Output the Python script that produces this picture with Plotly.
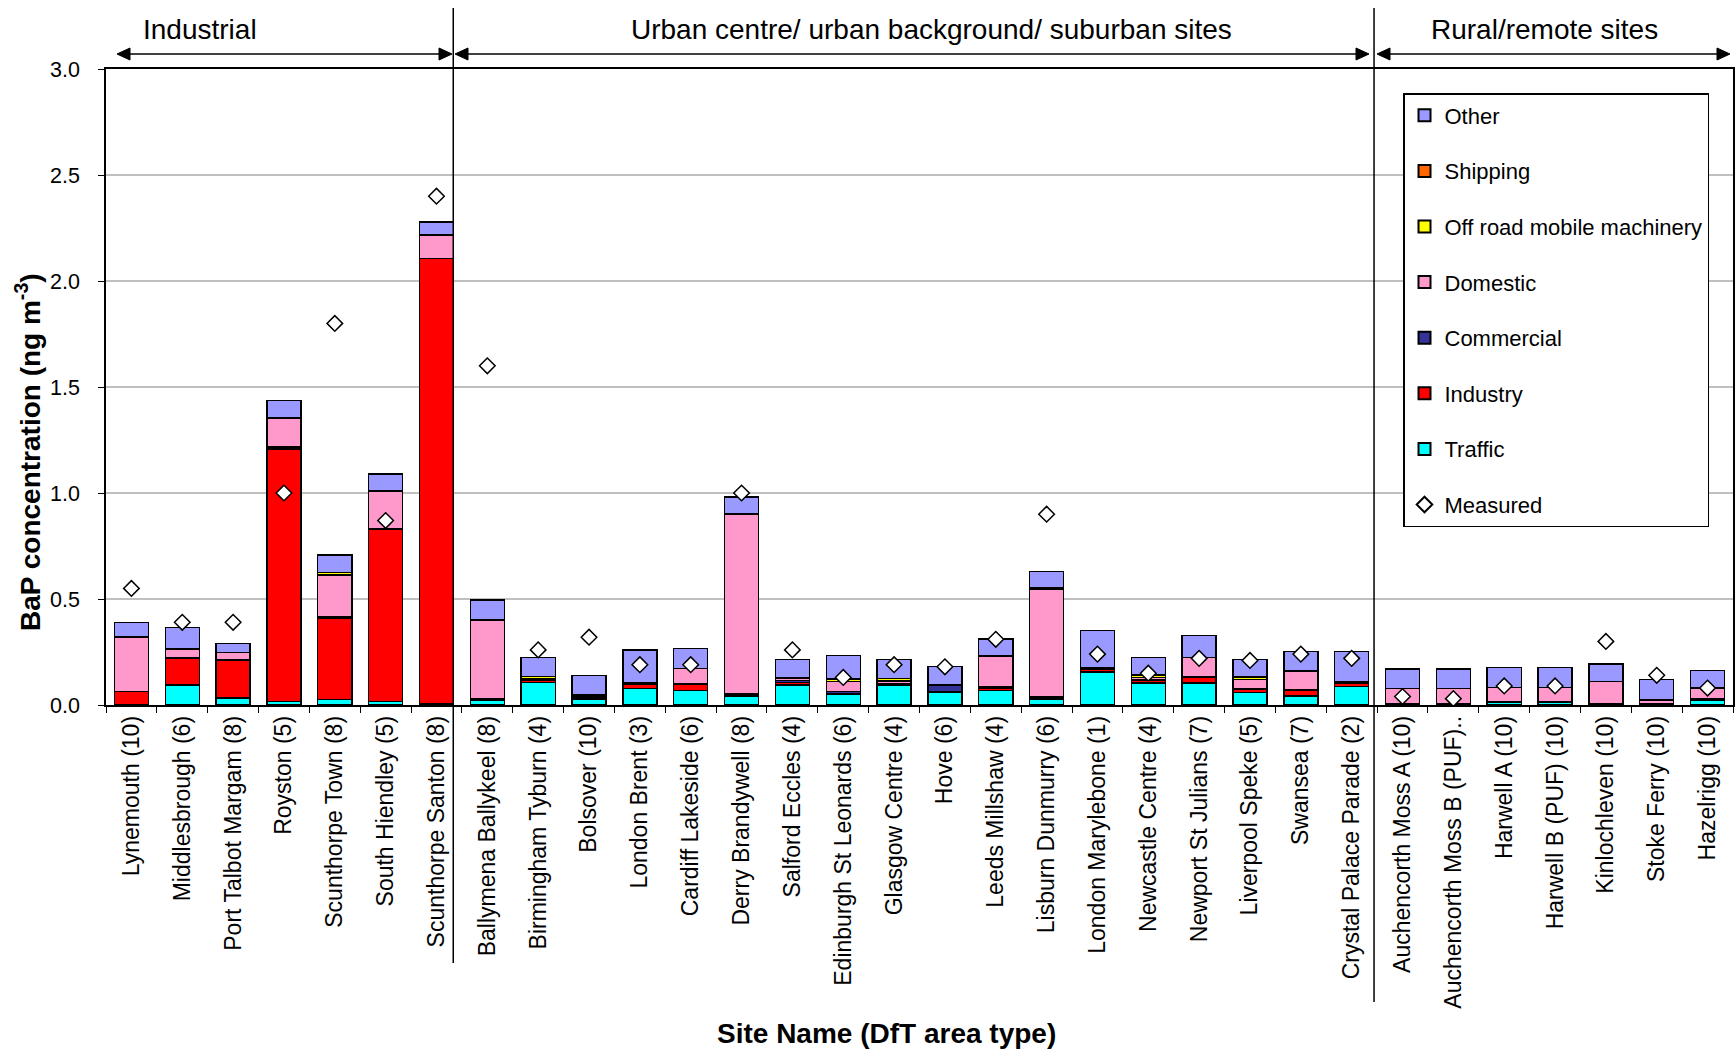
import plotly.graph_objects as go

sites = [
    "Lynemouth (10)", "Middlesbrough (6)", "Port Talbot Margam (8)", "Royston (5)",
    "Scunthorpe Town (8)", "South Hiendley (5)", "Scunthorpe Santon (8)",
    "Ballymena Ballykeel (8)", "Birmingham Tyburn (4)", "Bolsover (10)", "London Brent (3)",
    "Cardiff Lakeside (6)", "Derry Brandywell (8)", "Salford Eccles (4)",
    "Edinburgh St Leonards (6)", "Glasgow Centre (4)", "Hove (6)", "Leeds Millshaw (4)",
    "Lisburn Dunmurry (6)", "London Marylebone (1)", "Newcastle Centre (4)",
    "Newport St Julians (7)", "Liverpool Speke (5)", "Swansea (7)", "Crystal Palace Parade (2)",
    "Auchencorth Moss A (10)", "Auchencorth Moss B (PUF)..", "Harwell A (10)",
    "Harwell B (PUF) (10)", "Kinlochleven (10)", "Stoke Ferry (10)", "Hazelrigg (10)",
]

traffic = [0.003, 0.095, 0.033, 0.017, 0.026, 0.017, 0.005,
           0.020, 0.105, 0.025, 0.078, 0.068, 0.040, 0.095, 0.052, 0.095, 0.060, 0.068,
           0.027, 0.155, 0.103, 0.103, 0.060, 0.043, 0.087,
           0.003, 0.003, 0.015, 0.015, 0.003, 0.003, 0.023]
industry = [0.060, 0.125, 0.180, 1.190, 0.385, 0.810, 2.100,
            0.003, 0.012, 0.006, 0.018, 0.028, 0.003, 0.012, 0.002, 0.004, 0.002, 0.012,
            0.003, 0.012, 0.012, 0.027, 0.016, 0.025, 0.015,
            0.001, 0.001, 0.001, 0.001, 0.001, 0.001, 0.005]
commercial = [0.002, 0.005, 0.003, 0.010, 0.005, 0.003, 0.002,
              0.008, 0.002, 0.006, 0.005, 0.005, 0.008, 0.008, 0.010, 0.003, 0.030, 0.004,
              0.008, 0.005, 0.003, 0.003, 0.003, 0.003, 0.005,
              0.001, 0.001, 0.001, 0.001, 0.001, 0.001, 0.003]
domestic = [0.255, 0.040, 0.032, 0.135, 0.197, 0.180, 0.110,
            0.370, 0.004, 0.010, 0.002, 0.070, 0.850, 0.010, 0.048, 0.012, 0.002, 0.145,
            0.510, 0.002, 0.012, 0.090, 0.042, 0.087, 0.003,
            0.073, 0.073, 0.066, 0.066, 0.105, 0.019, 0.050]
off_road = [0.0, 0.0, 0.0, 0.003, 0.012, 0.0, 0.0,
            0.0, 0.012, 0.002, 0.0, 0.002, 0.0, 0.003, 0.010, 0.012, 0.0, 0.002,
            0.003, 0.002, 0.012, 0.002, 0.012, 0.002, 0.002,
            0.0, 0.0, 0.0, 0.0, 0.0, 0.0, 0.0]
shipping = [0.0] * 32
other = [0.070, 0.100, 0.042, 0.082, 0.082, 0.080, 0.061,
         0.094, 0.089, 0.090, 0.156, 0.094, 0.080, 0.088, 0.111, 0.090, 0.087, 0.080,
         0.080, 0.176, 0.082, 0.102, 0.083, 0.092, 0.140,
         0.092, 0.092, 0.095, 0.095, 0.084, 0.096, 0.082]
measured = [0.55, 0.39, 0.39, 1.00, 1.80, 0.87, 2.40,
            1.60, 0.26, 0.32, 0.19, 0.19, 1.00, 0.26, 0.13, 0.19, 0.18, 0.31,
            0.90, 0.24, 0.15, 0.22, 0.21, 0.24, 0.22,
            0.04, 0.03, 0.09, 0.09, 0.30, 0.14, 0.08]

sections = ["Industrial", "Urban centre/ urban background/ suburban sites", "Rural/remote sites"]

FONT = "Liberation Sans, Arial, sans-serif"

fig = go.Figure()
series = [
    ("Traffic", traffic, "#00FFFF", 7),
    ("Industry", industry, "#FF0000", 6),
    ("Commercial", commercial, "#333399", 5),
    ("Domestic", domestic, "#FF99CC", 4),
    ("Off road mobile machinery", off_road, "#FFFF00", 3),
    ("Shipping", shipping, "#FF6600", 2),
    ("Other", other, "#9999FF", 1),
]
for name, vals, col, rank in series:
    fig.add_trace(go.Bar(
        x=sites, y=vals, name=name, legendgroup=name, legendrank=rank,
        marker=dict(color=col, line=dict(color="black", width=1.4)),
    ))
fig.add_trace(go.Scatter(
    x=sites, y=measured, mode="markers", name="Measured", legendgroup="Measured", legendrank=8,
    marker=dict(symbol="diamond", size=12, color="white", line=dict(color="black", width=1.5)),
))

L, R, T, B = 106, 3, 69, 347
W, H = 1736, 1052
pw = W - L - R
ph = H - T - B

def px(xfull):
    return (xfull - L) / pw

def py(yfull):
    return (H - B - yfull) / ph

# section dividers
for xc, ybot in [(6.33, 963), (24.44, 1002)]:
    fig.add_shape(type="line", xref="x", yref="paper", x0=xc, x1=xc,
                  y0=py(ybot), y1=py(8), line=dict(color="black", width=1.5))

# section double-headed arrows and titles
arrows = [(117, 452), (455, 1369), (1377, 1730)]
title_x = [200, 932, 1544]
AY = 54
HL, HW = 13, 6
for (a, b), tx, txt in zip(arrows, title_x, sections):
    fig.add_shape(type="line", xref="paper", yref="paper",
                  x0=px(a + 4), x1=px(b - 4), y0=py(AY), y1=py(AY),
                  line=dict(color="black", width=1.5))
    left = f"M {px(a)} {py(AY)} L {px(a + HL)} {py(AY - HW)} L {px(a + HL)} {py(AY + HW)} Z"
    right = f"M {px(b)} {py(AY)} L {px(b - HL)} {py(AY - HW)} L {px(b - HL)} {py(AY + HW)} Z"
    for p in (left, right):
        fig.add_shape(type="path", xref="paper", yref="paper", path=p,
                      fillcolor="black", line=dict(color="black", width=1))
    fig.add_annotation(x=px(tx), y=py(29), xref="paper", yref="paper", text=txt,
                       showarrow=False, font=dict(size=28, color="black", family=FONT),
                       xanchor="center", yanchor="middle")

# axis titles
fig.add_annotation(x=px(28), y=py(452), xref="paper", yref="paper",
                   text="<b>BaP concentration (ng m<sup>-3</sup>)</b>", textangle=-90,
                   showarrow=False, font=dict(size=28, color="black", family=FONT),
                   xanchor="center", yanchor="middle")
fig.add_annotation(x=px(886), y=py(1033), xref="paper", yref="paper",
                   text="<b>Site Name (DfT area type)</b>",
                   showarrow=False, font=dict(size=28, color="black", family=FONT),
                   xanchor="center", yanchor="middle")

fig.update_layout(
    width=W, height=H,
    margin=dict(l=L, r=R, t=T, b=B, autoexpand=False),
    barmode="stack", bargap=0.33,
    plot_bgcolor="white", paper_bgcolor="white",
    font=dict(family=FONT, color="black", size=20),
    legend=dict(
        x=px(1403), y=py(93), xanchor="left", yanchor="top",
        bgcolor="white", bordercolor="black", borderwidth=1.5,
        font=dict(size=22, family=FONT), traceorder="grouped", tracegroupgap=24,
        itemsizing="constant",
    ),
    xaxis=dict(
        type="category", range=[-0.5, 31.5], tickangle=-90, tickson="boundaries",
        ticks="outside", ticklen=6, tickcolor="black", showline=True, mirror=True,
        linecolor="black", linewidth=1.5, showgrid=False,
        tickfont=dict(size=23, family=FONT), automargin=False,
    ),
    yaxis=dict(
        range=[0, 3], dtick=0.5, tickformat=".1f", ticks="outside", ticklen=6, tickcolor="black",
        showline=True, mirror=True, linecolor="black", linewidth=1.5,
        showgrid=True, gridcolor="#C0C0C0", gridwidth=1.5, zeroline=False,
        tickfont=dict(size=21.5, family=FONT), automargin=False, ticklabelstandoff=14,
    ),
)

fig.write_html("out.html", config={"displayModeBar": False},
               post_script="document.body.style.margin='0';")
